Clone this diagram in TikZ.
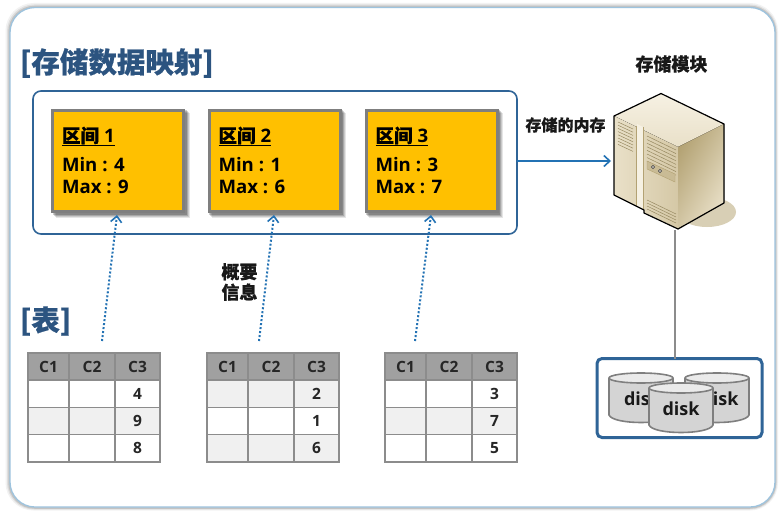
\documentclass[tikz,border=0pt]{standalone}
\usepackage{fontspec}
\setmainfont{Open Sans}
\newfontfamily\cjk[BoldFeatures={FakeBold=0.6}]{Noto Sans CJK SC}
\usetikzlibrary{arrows.meta,calc}
\definecolor{frameblue}{HTML}{9DC3DE}
\definecolor{boxblue}{HTML}{2F6497}
\definecolor{headblue}{HTML}{2C5480}
\definecolor{amber}{HTML}{FFC000}
\definecolor{rimgray}{HTML}{7F7F7F}
\definecolor{arrowblue}{HTML}{2372B4}
\definecolor{cellgray}{HTML}{F0F0F0}
\definecolor{headgray}{HTML}{A0A0A0}
\definecolor{linegray}{HTML}{8C8C8C}
\definecolor{diskfill}{HTML}{D4D4D4}
\definecolor{disktop}{HTML}{EAEAEA}
\definecolor{diskline}{HTML}{7F7F7F}
\definecolor{srvA}{HTML}{F6F1E3}
\definecolor{srvB}{HTML}{D5C8A6}
\definecolor{srvC}{HTML}{B3A273}
\definecolor{srvD}{HTML}{E9E0C8}
\definecolor{srvShadow}{HTML}{D8CFB5}
\tikzset{
  x=1pt,y=-1pt,
  every node/.style={outer sep=0pt},
  rangebox/.style={draw=rimgray,line width=3pt,fill=amber,minimum width=131pt,minimum height=101pt,inner sep=0pt,anchor=north west},
  rangetext/.style={font=\bfseries\fontsize{18.6}{22}\selectfont,anchor=west,inner sep=0pt,text=black},
  heading/.style={font=\cjk\bfseries\fontsize{28.5}{30}\selectfont,text=headblue,anchor=west,inner sep=0pt},
  smalllabel/.style={font=\cjk\bfseries\fontsize{16}{20}\selectfont,inner sep=0pt,text=black!90},
  biglabel/.style={font=\cjk\bfseries\fontsize{18}{22}\selectfont,inner sep=0pt,text=black!90,align=center},
  hcell/.style={fill=headgray,draw=linegray,line width=1.2pt,inner sep=0pt,font=\bfseries\fontsize{15.5}{16}\selectfont,text=black!85},
  cell/.style={draw=linegray,line width=1.2pt,inner sep=0pt,font=\bfseries\fontsize{15.5}{16}\selectfont,text=black!85},
  dotarrow/.style={arrowblue,line width=2pt,dotted,line cap=butt,-{Straight Barb[length=6pt,width=11pt,line width=1.6pt]}},
  srvedge/.style={draw=black,line width=1.2pt,line join=round},
  vent/.style={draw=srvC!85!black,line width=.5pt},
  diskbody/.style={draw=diskline,line width=1.6pt,fill=diskfill},
  disklid/.style={draw=diskline,line width=1.6pt,fill=disktop},
  disktext/.style={font=\fontsize{18}{20}\selectfont\bfseries,inner sep=0pt,text=black!90},
}
\newcommand{\rangeunit}[6]{% name, x, y, title, min, max
  \foreach \s/\o in {5/.10,4/.12,3/.16,2/.20}{\fill[black,opacity=\o] (#2+\s-1,#3+\s-1) rectangle (#2+133+\s,#3+103+\s);}
  \node[rangebox] (#1) at (#2+1,#3+1) {};
  \node[rangetext] (#1t) at (#2+10.5,#3+27) {\underline{{\cjk\bfseries 区间} #4}};
  \node[rangetext] (#1a) at (#2+10.5,#3+55.5) {Min : #5};
  \node[rangetext] (#1b) at (#2+10.5,#3+77) {Max : #6};
}
\newcommand{\dbtable}[6]{% name, x, a, b, c, firstfill
  \begin{scope}[shift={(#2,353)}]
  \foreach \xx/\w/\lab/\k in {0/41/C1/a,41/46/C2/b,87/45/C3/c}{
    \node[hcell,minimum width=\w pt,minimum height=27pt,anchor=north west] (#1h\k) at (\xx,0) {\lab};
  }
  \foreach \r/\v/\f in {1/#3/#6,2/#4/#6,3/#5/#6}{
    \pgfmathtruncatemacro{\isg}{mod(\r+#6,2)==0 ? 1 : 0}
    \ifnum\isg=1 \def\ff{cellgray}\else\def\ff{white}\fi
    \pgfmathsetmacro{\yy}{27+(\r-1)*27.3}
    \node[cell,fill=\ff,minimum width=41pt,minimum height=27.3pt,anchor=north west] (#1a\r) at (0,\yy) {};
    \node[cell,fill=\ff,minimum width=46pt,minimum height=27.3pt,anchor=north west] (#1b\r) at (41,\yy) {};
    \node[cell,fill=\ff,minimum width=45pt,minimum height=27.3pt,anchor=north west] (#1c\r) at (87,\yy) {\v};
  }
  \end{scope}
}
\newcommand{\diskdraw}[4]{% name, left x, top y, text shift
  \draw[diskbody] (#2,#3+5) -- (#2,#3+42) .. controls (#2+4,#3+52) and (#2+60,#3+52) .. (#2+64,#3+42) -- (#2+64,#3+5);
  \draw[disklid] (#2+32,#3+5) ellipse [x radius=32pt,y radius=5pt];
  \node[disktext] (#1) at (#2+32+#4,#3+26) {disk};
}
\begin{document}
\begin{tikzpicture}
\useasboundingbox (0,0) rectangle (783,513);
\fill[white] (0,0) rectangle (783,513);
% outer frame
\foreach \w/\o/\dx in {6/.05/-1.5,4/.08/-1,2.5/.12/-0.5}{
  \draw[black,opacity=\o,line width=\w pt,rounded corners=25pt] (10+\dx,7.5+\dx) rectangle (775,507.5);
}
\draw[frameblue,line width=1.3pt,fill=white,rounded corners=25pt] (10,7.5) rectangle (775,507);

\node[heading] (maphead) at (20,63) {[存储数据映射]};
\node[heading] (tablehead) at (20,321) {[表]};

% storage map box
\node[draw=boxblue,line width=1.6pt,rounded corners=8pt,minimum width=484pt,minimum height=143pt,anchor=north west,inner sep=0pt] (mapbox) at (33,91) {};
\rangeunit{ra}{51.5}{109.5}{1}{4}{9}
\rangeunit{rb}{208}{109.5}{2}{1}{6}
\rangeunit{rc}{365}{109.5}{3}{3}{7}

% tables
\dbtable{ta}{28}{4}{9}{8}{0}
\dbtable{tb}{207}{2}{1}{6}{1}
\dbtable{tc}{385}{3}{7}{5}{0}

% dotted arrows
\coordinate (fa) at (102,341);
\coordinate (fb) at (259,341);
\coordinate (fc) at (415,341);
\coordinate (ea) at (117,215);
\coordinate (eb) at (274,215);
\coordinate (ec) at (431,215);
\draw[dotarrow] (fa) -- (ea);
\draw[dotarrow] (fb) -- (eb);
\draw[dotarrow] (fc) -- (ec);
\node[biglabel] (summary) at (239.5,282) {概要\\[-1.5pt]信息};

% labels
\node[smalllabel] (memlabel) at (565.5,125) {存储的内存};
\node[biglabel] (modlabel) at (671.5,64) {存储模块};

% server
\fill[srvShadow] (707,212) ellipse [x radius=29pt,y radius=15pt];
\coordinate (srvport) at (611,161);
\coordinate (srvbase) at (675,230);
\fill[top color=srvA,bottom color=srvD] (661,93.5) -- (724,124) -- (678,147) -- (614,116) -- cycle;
\fill[left color=srvD,right color=srvB] (614,116) -- (678,147) -- (678,229) -- (644,213) -- (644,210) -- (614,195) -- cycle;
\fill[left color=srvC,right color=srvD,shading angle=60] (678,147) -- (724,124) -- (724,203) -- (678,229) -- cycle;
\fill[srvA] (637,124) -- (643,127) -- (643,210) -- (637,207) -- cycle;
\draw[srvC,line width=.6pt] (643,127) -- (643,210);
\draw[srvC,line width=.6pt] (636,126) -- (636,207);
\foreach \i in {0,...,7}{
  \draw[vent] (618,{122+\i*3.2}) -- (633,{129+\i*3.2});
  \draw[vent] (647,{136+\i*3.6}) -- (676,{150+\i*3.6});
}
\foreach \i in {0,...,3}{\draw[vent] (647,{200+\i*3}) -- (676,{214+\i*3});}
\fill[srvC!60!srvD,draw=srvC] (647,161) -- (675,174) -- (675,182) -- (647,169) -- cycle;
\fill[srvA,draw=black!70,line width=.6pt] (653,167) circle (1.6pt) (660,171) circle (1.6pt);
\draw[srvedge] (661,93.5) -- (724,124) -- (724,203) -- (678,229) -- (644,213) -- (644,210) -- (614,195) -- (614,116) -- cycle;

% memory arrow and link
\draw[arrowblue,line width=2pt,-{Straight Barb[length=6pt,width=11pt,line width=1.6pt]}] (mapbox.east |- srvport) -- (srvport);

% disks
\node[draw=boxblue,line width=3pt,rounded corners=5pt,minimum width=165pt,minimum height=79pt,anchor=north west,inner sep=0pt,fill=white] (diskbox) at (597,358.5) {};
\draw[linegray,line width=1.6pt] (srvbase) -- (srvbase |- diskbox.north);
\diskdraw{dl}{609}{373}{1.5}
\diskdraw{dr}{685}{373}{3}
\diskdraw{dm}{649}{383}{0}
\end{tikzpicture}
\end{document}
